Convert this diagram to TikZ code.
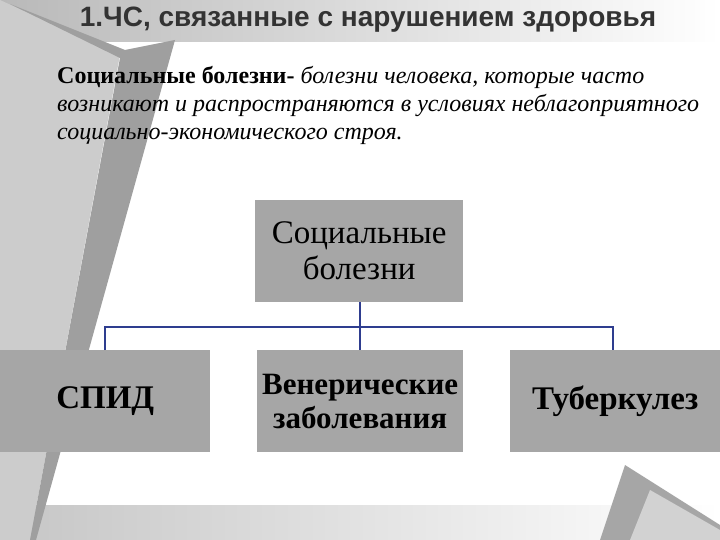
\documentclass[tikz,border=0pt]{standalone}
\usepackage{fontspec}
\setmainfont{Liberation Serif}
\newfontfamily\titlefont{Liberation Sans}
\definecolor{boxg}{HTML}{A6A6A6}
\definecolor{lineb}{HTML}{2E3D8F}
\begin{document}
\begin{tikzpicture}[x=1pt,y=-1pt,
  box/.style={fill=boxg,minimum width=208pt,minimum height=102pt,anchor=north west,align=center,inner sep=0pt},
  conn/.style={lineb,line width=2pt}]
\useasboundingbox (0,0) rectangle (720,540);
\fill[white] (0,0) rectangle (720,540);
% background decorations
\shade[left color=gray!55,right color=white] (0,0) rectangle (720,42);
\shade[left color=gray!45,right color=white] (0,505) rectangle (720,540);
\fill[gray!40] (0,0) -- (120,55) -- (30,540) -- (0,540) -- cycle;
\fill[gray!75] (10,4) -- (125,50) -- (175,40) -- (36,540) -- (30,540) -- (120,58) -- cycle;
\fill[gray!70] (625,465) -- (720,525) -- (720,540) -- (600,540) -- cycle;
\fill[gray!35] (650,490) -- (720,530) -- (720,540) -- (630,540) -- cycle;
% title
\node[font=\titlefont\bfseries\fontsize{28}{30}\selectfont,text=black!80] (title) at (368,20) {1.ЧС, связанные с нарушением здоровья};
% definition
\node[anchor=north west,align=left,font=\fontsize{24}{28}\selectfont,inner sep=0pt] (def) at (57,66)
 {\textbf{Социальные болезни-} \textit{болезни человека, которые часто}\\
  \textit{возникают и распространяются в условиях неблагоприятного}\\
  \textit{социально-экономического строя.}};
% boxes
\node[box,font=\fontsize{33}{36}\selectfont] (top) at (255,200) {Социальные\\болезни};
\node[box,minimum width=210pt,font=\bfseries\fontsize{33}{35}\selectfont] (a) at (0,350) {СПИД};
\node[box,minimum width=206pt,font=\bfseries\fontsize{31}{34}\selectfont] (b) at (257,350) {Венерические\\заболевания};
\node[box,minimum width=210pt,font=\bfseries\fontsize{33}{35}\selectfont] (c) at (510,350) {Туберкулез};
% connectors
\coordinate (j) at (360,327);
\coordinate (jl) at (105,327);
\coordinate (jr) at (613,327);
\draw[conn] (360,302) -- (j) -- (360,350);
\draw[conn] (105,350) -- (jl) -- (jr) -- (613,350);
\end{tikzpicture}
\end{document}
